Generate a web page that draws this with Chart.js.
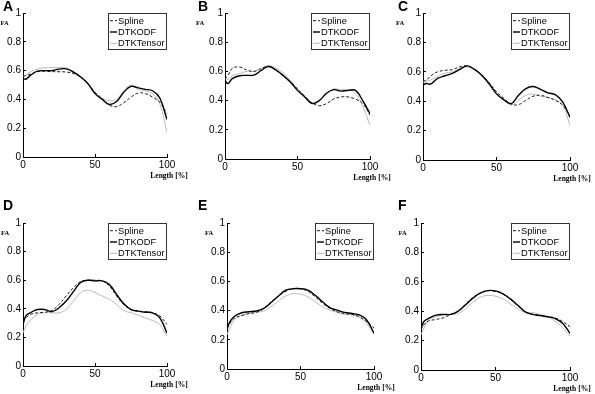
<!DOCTYPE html>
<html>
<head>
<meta charset="utf-8">
<script src="https://cdn.jsdelivr.net/npm/chart.js@4.4.0/dist/chart.umd.min.js"></script>
<style>
body { margin: 0; background: #fff; }
#wrap { position: relative; width: 595px; height: 394px; overflow: hidden; }
canvas { position: absolute; }
</style>
</head>
<body>
<div id="wrap"></div>
<script>
// x positions along the tract (%)
const length_pct = [0, 2, 5, 10, 15, 20, 25, 30, 35, 40, 45, 50, 55, 60, 65, 70, 75, 80, 85, 90, 95, 100];

const series_names = ["Spline", "DTKODF", "DTKTensor"];
const panel_letters = ["A", "B", "C", "D", "E", "F"];
const y_ticks = [0, 0.2, 0.4, 0.6, 0.8, 1];
const x_ticks = [0, 50, 100];

const spline_A = [0.56, 0.565, 0.575, 0.593, 0.595, 0.593, 0.592, 0.59, 0.58, 0.556, 0.51, 0.45, 0.405, 0.36, 0.35, 0.377, 0.416, 0.444, 0.44, 0.416, 0.38, 0.3];
const odf_A = [0.545, 0.54, 0.565, 0.596, 0.6, 0.6, 0.61, 0.612, 0.59, 0.556, 0.51, 0.44, 0.4, 0.365, 0.385, 0.45, 0.49, 0.48, 0.47, 0.46, 0.41, 0.26];
const tensor_A = [0.56, 0.57, 0.59, 0.61, 0.62, 0.62, 0.62, 0.62, 0.596, 0.56, 0.51, 0.45, 0.41, 0.39, 0.4, 0.46, 0.5, 0.47, 0.46, 0.44, 0.37, 0.17];

const spline_B = [0.55, 0.57, 0.62, 0.63, 0.61, 0.6, 0.62, 0.635, 0.61, 0.57, 0.53, 0.48, 0.43, 0.385, 0.365, 0.38, 0.41, 0.425, 0.425, 0.41, 0.38, 0.3];
const odf_B = [0.54, 0.516, 0.55, 0.57, 0.573, 0.575, 0.607, 0.634, 0.61, 0.573, 0.527, 0.47, 0.425, 0.38, 0.4, 0.45, 0.475, 0.465, 0.47, 0.47, 0.4, 0.31];
const tensor_B = [0.55, 0.545, 0.57, 0.585, 0.6, 0.6, 0.62, 0.64, 0.625, 0.59, 0.54, 0.48, 0.43, 0.385, 0.4, 0.45, 0.48, 0.475, 0.475, 0.45, 0.36, 0.23];

const spline_C = [0.543, 0.54, 0.57, 0.6, 0.61, 0.615, 0.634, 0.64, 0.616, 0.577, 0.525, 0.464, 0.42, 0.38, 0.377, 0.406, 0.434, 0.44, 0.425, 0.406, 0.373, 0.3];
const odf_C = [0.51, 0.52, 0.516, 0.555, 0.573, 0.59, 0.616, 0.64, 0.616, 0.577, 0.52, 0.45, 0.41, 0.384, 0.44, 0.486, 0.5, 0.48, 0.457, 0.445, 0.395, 0.29];
const tensor_C = [0.53, 0.535, 0.543, 0.57, 0.59, 0.6, 0.623, 0.634, 0.616, 0.57, 0.51, 0.448, 0.407, 0.373, 0.407, 0.44, 0.448, 0.434, 0.425, 0.41, 0.373, 0.236];

const spline_D = [0.313, 0.336, 0.36, 0.372, 0.376, 0.388, 0.43, 0.49, 0.548, 0.59, 0.6, 0.6, 0.595, 0.56, 0.49, 0.43, 0.395, 0.384, 0.38, 0.372, 0.35, 0.29];
const odf_D = [0.29, 0.35, 0.372, 0.395, 0.395, 0.38, 0.407, 0.454, 0.52, 0.584, 0.6, 0.595, 0.595, 0.57, 0.5, 0.435, 0.395, 0.384, 0.376, 0.372, 0.336, 0.23];
const tensor_D = [0.23, 0.28, 0.318, 0.36, 0.372, 0.372, 0.372, 0.395, 0.454, 0.513, 0.53, 0.513, 0.49, 0.466, 0.43, 0.388, 0.372, 0.355, 0.336, 0.318, 0.29, 0.207];

const spline_E = [0.28, 0.313, 0.347, 0.365, 0.38, 0.388, 0.415, 0.46, 0.5, 0.532, 0.55, 0.55, 0.532, 0.494, 0.45, 0.415, 0.392, 0.38, 0.374, 0.358, 0.325, 0.28];
const odf_E = [0.27, 0.325, 0.36, 0.385, 0.392, 0.397, 0.415, 0.455, 0.5, 0.54, 0.55, 0.55, 0.54, 0.505, 0.46, 0.42, 0.403, 0.388, 0.38, 0.37, 0.336, 0.245];
const tensor_E = [0.235, 0.28, 0.336, 0.37, 0.38, 0.388, 0.397, 0.426, 0.465, 0.5, 0.516, 0.512, 0.494, 0.46, 0.426, 0.403, 0.388, 0.374, 0.37, 0.352, 0.313, 0.235];

const spline_F = [0.273, 0.307, 0.333, 0.344, 0.355, 0.378, 0.4, 0.45, 0.495, 0.524, 0.54, 0.533, 0.518, 0.48, 0.436, 0.396, 0.378, 0.373, 0.362, 0.355, 0.33, 0.295];
const odf_F = [0.284, 0.33, 0.35, 0.373, 0.378, 0.378, 0.4, 0.444, 0.49, 0.524, 0.54, 0.538, 0.518, 0.484, 0.44, 0.396, 0.378, 0.37, 0.362, 0.35, 0.318, 0.25];
const tensor_F = [0.24, 0.284, 0.34, 0.362, 0.373, 0.378, 0.384, 0.418, 0.462, 0.496, 0.507, 0.502, 0.484, 0.45, 0.418, 0.39, 0.39, 0.378, 0.362, 0.33, 0.29, 0.23];

const panel_data = [
    [spline_A, odf_A, tensor_A],
    [spline_B, odf_B, tensor_B],
    [spline_C, odf_C, tensor_C],
    [spline_D, odf_D, tensor_D],
    [spline_E, odf_E, tensor_E],
    [spline_F, odf_F, tensor_F]
];

// layout: canvas box [left, top, width, height], plot box [left, top, right, bottom], FA label offset
const panel_layout = [
    { box: [0, 0, 195, 195],     plot: [23, 13, 167, 157],   fa_dx: -18.5 },
    { box: [195, 0, 200, 195],   plot: [225, 13, 370, 159],  fa_dx: -25 },
    { box: [395, 0, 200, 195],   plot: [423, 13, 570, 160],  fa_dx: -23 },
    { box: [0, 195, 195, 199],   plot: [23, 223, 167, 366],  fa_dx: -18 },
    { box: [195, 195, 200, 199], plot: [227, 223, 374, 369], fa_dx: -18 },
    { box: [395, 195, 200, 199], plot: [421, 223, 570, 370], fa_dx: -18.5 }
];

const Y_AXIS_W = 20;
const X_AXIS_H = 14;
const sans = "'Liberation Sans', Arial, sans-serif";
const serif = "'Liberation Serif', 'Times New Roman', serif";

const line_styles = [
    { borderColor: "#1a1a1a", borderWidth: 1, borderDash: [3, 2], order: 1 },
    { borderColor: "#000000", borderWidth: 1.4, borderDash: [], order: 0 },
    { borderColor: "#b9b9b9", borderWidth: 1, borderDash: [], order: 2 }
];

// panel letter, axis labels and the boxed legend
const decorations = {
    id: "decorations",
    afterDraw(chart, args, opts) {
        const ctx = chart.ctx;
        const area = chart.chartArea;
        ctx.save();
        ctx.fillStyle = "#000";

        ctx.font = "bold 14px " + sans;
        ctx.textAlign = "left";
        ctx.textBaseline = "top";
        ctx.fillText(opts.letter, 3, opts.letter_y);

        ctx.font = "bold 6.5px " + serif;
        ctx.textAlign = "center";
        ctx.textBaseline = "middle";
        ctx.fillText("FA", area.left + opts.fa_dx, area.top + 10.5);

        ctx.font = "bold 7.5px " + serif;
        ctx.fillText("Length [%]", area.right + 2, area.bottom + 19.5);

        // legend
        const sets = chart.data.datasets;
        ctx.font = "9.3px " + sans;
        let text_w = 0;
        sets.forEach(d => { text_w = Math.max(text_w, ctx.measureText(d.label).width); });
        const w = Math.round(text_w + 13);
        const h = 37;
        const x0 = Math.round(area.right - w);
        const y0 = Math.round(area.top);
        ctx.fillStyle = "#fff";
        ctx.fillRect(x0, y0, w, h);
        ctx.strokeStyle = "#333";
        ctx.lineWidth = 1;
        ctx.strokeRect(x0 + 0.5, y0 + 0.5, w - 1, h - 1);
        sets.forEach((d, i) => {
            const y = y0 + 7.7 + i * 11.3;
            ctx.beginPath();
            ctx.setLineDash(d.borderDash || []);
            ctx.strokeStyle = d.borderColor;
            ctx.lineWidth = d.borderWidth;
            ctx.moveTo(x0 + 2, y);
            ctx.lineTo(x0 + 9, y);
            ctx.stroke();
            ctx.setLineDash([]);
            ctx.fillStyle = "#000";
            ctx.textAlign = "left";
            ctx.textBaseline = "middle";
            ctx.fillText(d.label, x0 + 10, y + 0.5);
        });
        ctx.restore();
    }
};

function make_panel(idx) {
    const lay = panel_layout[idx];
    const [bl, bt, bw, bh] = lay.box;
    const [pl, pt, pr, pb] = lay.plot;

    const canvas = document.createElement("canvas");
    canvas.width = bw;
    canvas.height = bh;
    canvas.style.left = bl + "px";
    canvas.style.top = bt + "px";
    canvas.style.width = bw + "px";
    canvas.style.height = bh + "px";
    document.getElementById("wrap").appendChild(canvas);

    const datasets = series_names.map((name, s) => ({
        label: name,
        data: length_pct.map((x, i) => ({ x: x, y: panel_data[idx][s][i] })),
        borderColor: line_styles[s].borderColor,
        borderWidth: line_styles[s].borderWidth,
        borderDash: line_styles[s].borderDash,
        order: line_styles[s].order,
        pointRadius: 0,
        fill: false,
        tension: 0.4
    }));

    const axis_grid = { drawOnChartArea: false, tickLength: -3, color: "#000", lineWidth: 1 };
    const axis_border = { color: "#000", width: 1 };
    const tick_label = v => String(Math.round(v * 10) / 10);

    new Chart(canvas.getContext("2d"), {
        type: "line",
        data: { datasets: datasets },
        options: {
            responsive: false,
            animation: false,
            events: [],
            layout: {
                padding: {
                    left: pl - bl - Y_AXIS_W,
                    top: pt - bt,
                    right: bl + bw - pr,
                    bottom: bt + bh - pb - X_AXIS_H
                }
            },
            plugins: {
                legend: { display: false },
                tooltip: { enabled: false },
                decorations: {
                    letter: panel_letters[idx],
                    letter_y: idx < 3 ? 0 : 4,
                    fa_dx: lay.fa_dx
                }
            },
            scales: {
                x: {
                    type: "linear",
                    min: x_ticks[0],
                    max: x_ticks[x_ticks.length - 1],
                    afterFit(scale) { scale.height = X_AXIS_H; },
                    afterBuildTicks(scale) { scale.ticks = x_ticks.map(v => ({ value: v })); },
                    ticks: { color: "#000", padding: 5, maxRotation: 0, autoSkip: false, callback: tick_label, font: { family: sans, size: 10 } },
                    grid: axis_grid,
                    border: axis_border
                },
                y: {
                    min: y_ticks[0],
                    max: y_ticks[y_ticks.length - 1],
                    afterFit(scale) { scale.width = Y_AXIS_W; },
                    afterBuildTicks(scale) { scale.ticks = y_ticks.map(v => ({ value: v })); },
                    ticks: { color: "#000", padding: 5, autoSkip: false, callback: tick_label, font: { family: sans, size: 10 } },
                    grid: axis_grid,
                    border: axis_border
                }
            }
        },
        plugins: [decorations]
    });
}

for (let i = 0; i < panel_layout.length; i++) {
    make_panel(i);
}
</script>
</body>
</html>
